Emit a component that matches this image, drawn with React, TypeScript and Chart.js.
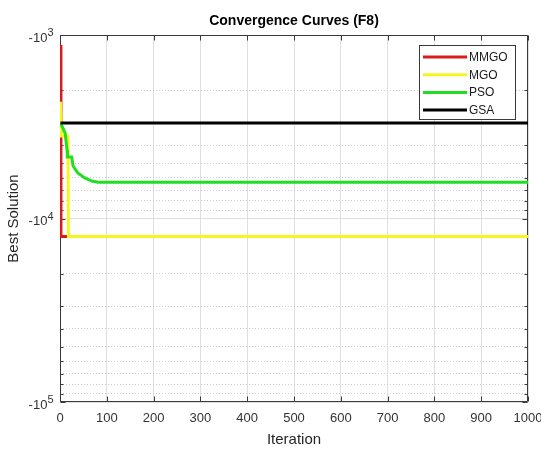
import React, { useEffect, useRef } from 'react';
import { Chart, registerables } from 'chart.js';

Chart.register(...registerables);

// ---- data ----
const chartTitle = 'Convergence Curves (F8)';
const xLabel = 'Iteration';
const yLabel = 'Best Solution';

const seriesNames = ['MMGO', 'MGO', 'PSO', 'GSA'];
const seriesColors = ['#d81c1c', '#f6f61e', '#22dd22', '#000000'];

const mmgoIter = [1, 2, 1000];
const mmgoBest = [-1134, -12535, -12535];

const mgoIter = [1, 3, 17, 18, 1000];
const mgoBest = [-2310, -3551, -3551, -12535, -12535];

const psoIter = [1, 4, 11, 15, 16, 25, 28, 38, 53, 68, 81, 1000];
const psoBest = [-3017, -3132, -3420, -4233, -4622, -4622, -5175, -5650, -6015, -6247, -6349, -6349];

const gsaIter = [1, 1000];
const gsaBest = [-3017, -3017];

const xTickValues = [0, 100, 200, 300, 400, 500, 600, 700, 800, 900, 1000];
const yDecadeMagnitudes = [1e3, 1e4, 1e5];
const yDecadeBase = '-10';
const yDecadeExponents = ['3', '4', '5'];
const yMinorMultipliers = [1, 2, 3, 4, 5, 6, 7, 8, 9];

const FONT = "'Liberation Sans', Arial, Helvetica, sans-serif";
const AXIS_COLOR = '#3a3a3a';
const TICK_TEXT = '#333333';

function buildYTicks(): number[] {
  const out: number[] = [];
  for (let d = 0; d < yDecadeMagnitudes.length - 1; d++) {
    for (const m of yMinorMultipliers) out.push(m * yDecadeMagnitudes[d]);
  }
  out.push(yDecadeMagnitudes[yDecadeMagnitudes.length - 1]);
  return out;
}

function isDecade(v: number | undefined): boolean {
  if (v === undefined || v <= 0) return false;
  const l = Math.log10(v);
  return Math.abs(l - Math.round(l)) < 1e-9;
}

function series(iter: number[], best: number[]) {
  // plotted on a reversed log axis of |value|, labelled as negative powers of ten
  return iter.map((it, i) => ({ x: it, y: Math.abs(best[i]) }));
}

const frame = {
  id: 'matlabFrame',
  beforeDatasetsDraw(chart: any) {
    const { ctx, chartArea: a, scales } = chart;
    const x = scales.x;
    const y = scales.y;
    ctx.save();
    ctx.strokeStyle = AXIS_COLOR;
    ctx.lineWidth = 1;
    const L = Math.round(a.left) + 0.5;
    const R = Math.round(a.right) - 0.5;
    const T = Math.round(a.top) + 0.5;
    const B = Math.round(a.bottom) - 0.5;
    ctx.beginPath();
    ctx.rect(L, T, R - L, B - T);
    ctx.stroke();
    ctx.beginPath();
    for (const t of x.ticks) {
      const px = Math.round(x.getPixelForValue(t.value)) + 0.5;
      ctx.moveTo(px, B);
      ctx.lineTo(px, B - 5);
      ctx.moveTo(px, T);
      ctx.lineTo(px, T + 5);
    }
    for (const t of y.ticks) {
      const py = Math.round(y.getPixelForValue(t.value)) + 0.5;
      const len = isDecade(t.value) ? 5 : 3;
      ctx.moveTo(L, py);
      ctx.lineTo(L + len, py);
      ctx.moveTo(R, py);
      ctx.lineTo(R - len, py);
    }
    ctx.stroke();

    // y decade labels: "-10" with a raised exponent
    ctx.fillStyle = TICK_TEXT;
    ctx.textBaseline = 'middle';
    ctx.textAlign = 'right';
    yDecadeMagnitudes.forEach((m, i) => {
      const py = y.getPixelForValue(m);
      const expRight = a.left - 6.5;
      ctx.font = `11px ${FONT}`;
      const expW = ctx.measureText(yDecadeExponents[i]).width;
      ctx.fillText(yDecadeExponents[i], expRight, py - 2);
      ctx.font = `13px ${FONT}`;
      ctx.fillText(yDecadeBase, expRight - expW, py + 3);
    });
    ctx.restore();
  },
  afterDatasetsDraw(chart: any) {
    const { ctx, chartArea: a } = chart;
    ctx.save();
    // legend box (top-right inside axes)
    const boxW = 96;
    const boxH = 74;
    const bx = Math.round(a.right - 13 - boxW);
    const by = Math.round(a.top + 10);
    ctx.fillStyle = '#ffffff';
    ctx.fillRect(bx, by, boxW, boxH);
    ctx.strokeStyle = AXIS_COLOR;
    ctx.lineWidth = 1;
    ctx.strokeRect(bx + 0.5, by + 0.5, boxW, boxH);
    ctx.font = `12px ${FONT}`;
    ctx.textAlign = 'left';
    ctx.textBaseline = 'middle';
    seriesNames.forEach((name, i) => {
      const yy = by + 12 + i * 17.7;
      ctx.strokeStyle = seriesColors[i];
      ctx.lineWidth = 3;
      ctx.beginPath();
      ctx.moveTo(bx + 4, yy);
      ctx.lineTo(bx + 48, yy);
      ctx.stroke();
      ctx.fillStyle = '#1a1a1a';
      ctx.fillText(name, bx + 50, yy + 0.5);
    });
    ctx.restore();
  },
  afterDraw(chart: any) {
    const { ctx, chartArea: a } = chart;
    ctx.save();
    ctx.font = `bold 14px ${FONT}`;
    ctx.fillStyle = '#000000';
    ctx.textAlign = 'center';
    ctx.textBaseline = 'middle';
    ctx.fillText(chartTitle, (a.left + a.right) / 2, a.top - 13.5);
    ctx.restore();
  },
};

export default function App() {
  const canvasRef = useRef<HTMLCanvasElement | null>(null);

  useEffect(() => {
    if (!canvasRef.current) return;
    const yTicks = buildYTicks();
    const datasetsSrc = [
      series(mmgoIter, mmgoBest),
      series(mgoIter, mgoBest),
      series(psoIter, psoBest),
      series(gsaIter, gsaBest),
    ];
    const chart = new Chart(canvasRef.current, {
      type: 'line',
      data: {
        datasets: datasetsSrc.map((d, i) => ({
          label: seriesNames[i],
          data: d,
          borderColor: seriesColors[i],
          backgroundColor: seriesColors[i],
          borderWidth: 3,
          pointRadius: 0,
          tension: 0,
          fill: false,
          order: seriesNames.length - i,
        })),
      },
      options: {
        animation: false,
        responsive: false,
        devicePixelRatio: 1,
        events: [],
        layout: { padding: { left: 0, right: 13, top: 35, bottom: 0 } },
        plugins: {
          legend: { display: false },
          tooltip: { enabled: false },
          title: { display: false },
        },
        scales: {
          x: {
            type: 'linear',
            min: 0,
            max: 1000,
            afterBuildTicks: (s: any) => {
              s.ticks = xTickValues.map((v) => ({ value: v }));
            },
            afterFit: (s: any) => {
              s.height = 47;
              s.paddingLeft = 0;
              s.paddingRight = 0;
            },
            ticks: {
              autoSkip: false,
              maxRotation: 0,
              padding: 9,
              color: TICK_TEXT,
              font: { family: FONT, size: 13 },
              callback: (v: any) => String(v),
            },
            grid: {
              drawTicks: false,
              color: '#dfdfdf',
              lineWidth: 1,
            },
            border: { display: false },
            title: {
              display: true,
              text: xLabel,
              color: '#262626',
              font: { family: FONT, size: 15 },
              padding: { top: 0, bottom: 0 },
            },
          },
          y: {
            type: 'logarithmic',
            min: 1e3,
            max: 1e5,
            reverse: true,
            afterBuildTicks: (s: any) => {
              s.ticks = yTicks.map((v) => ({ value: v }));
            },
            afterFit: (s: any) => {
              s.width = 60;
              s.paddingTop = 0;
              s.paddingBottom = 0;
            },
            ticks: {
              autoSkip: false,
              padding: 7,
              color: TICK_TEXT,
              font: { family: FONT, size: 13 },
              callback: () => '',
            },
            grid: {
              drawTicks: false,
              lineWidth: 1,
              color: (c: any) => (isDecade(c.tick?.value) ? '#dfdfdf' : '#cdcdcd'),
            },
            border: {
              display: false,
              dash: (c: any) => (isDecade(c.tick?.value) ? [] : [1, 2]),
            },
            title: {
              display: true,
              text: yLabel,
              color: '#262626',
              font: { family: FONT, size: 15 },
              padding: { top: 5, bottom: 0 },
            },
          },
        },
      } as any,
      plugins: [frame],
    });
    return () => chart.destroy();
  }, []);

  return (
    <div style={{ position: 'absolute', left: 0, top: 0, width: 541, height: 449, background: '#ffffff' }}>
      <canvas ref={canvasRef} width={541} height={449} style={{ display: 'block' }} />
    </div>
  );
}
